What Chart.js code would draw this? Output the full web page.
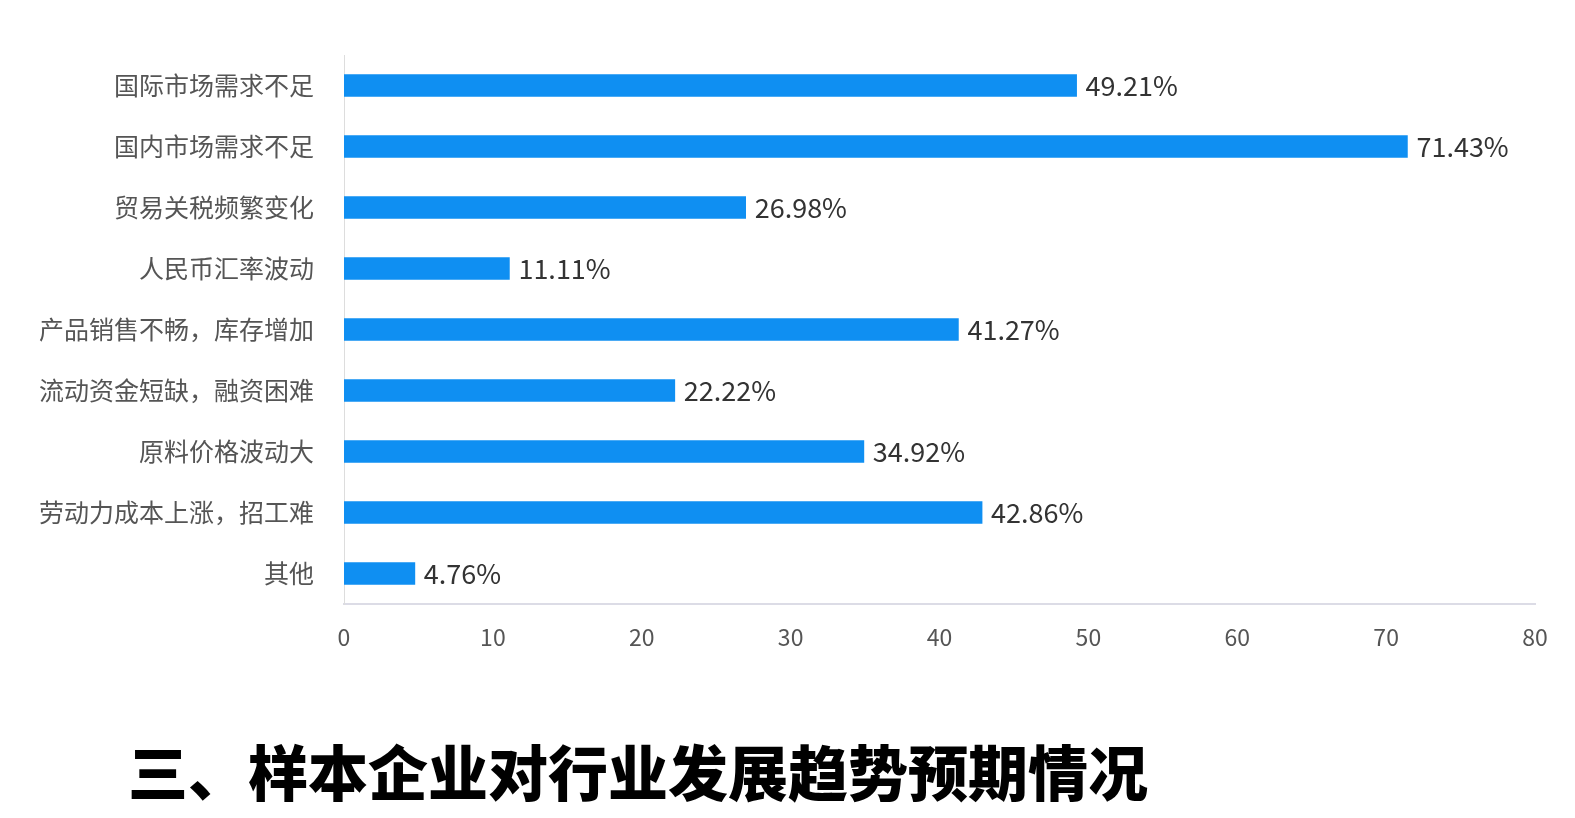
<!DOCTYPE html>
<html>
<head>
<meta charset="utf-8">
<script src="https://cdn.jsdelivr.net/npm/chart.js@4/dist/chart.umd.min.js"></script>
<style>
  html, body { margin: 0; padding: 0; background: #fff; }
  #wrap { position: relative; width: 1575px; height: 818px; }
  #box { position: absolute; left: 0; top: 0; width: 1575px; height: 700px; }
  #heading {
    position: absolute; left: 128px; top: 738px;
    font-family: "Noto Sans CJK SC", sans-serif; font-weight: 900;
    font-size: 60px; line-height: 64px; color: #000; white-space: nowrap;
  }
</style>
</head>
<body>
<div id="wrap">
  <div id="box"><canvas id="chart"></canvas></div>
  <div id="heading">三、样本企业对行业发展趋势预期情况</div>
</div>
<script>
var categories = ["国际市场需求不足", "国内市场需求不足", "贸易关税频繁变化", "人民币汇率波动",
  "产品销售不畅，库存增加", "流动资金短缺，融资困难", "原料价格波动大", "劳动力成本上涨，招工难", "其他"];
var percents = [49.21, 71.43, 26.98, 11.11, 41.27, 22.22, 34.92, 42.86, 4.76];
var xTicks = [0, 10, 20, 30, 40, 50, 60, 70, 80];

var font = "'Noto Sans CJK SC', sans-serif";

// value labels at the end of each bar
var barLabels = {
  id: "barLabels",
  afterDatasetsDraw: function (chart) {
    var ctx = chart.ctx;
    var meta = chart.getDatasetMeta(0);
    ctx.save();
    ctx.font = "27px " + font;
    ctx.fillStyle = "#333";
    ctx.textAlign = "left";
    ctx.textBaseline = "middle";
    meta.data.forEach(function (bar, i) {
      ctx.fillText(percents[i].toFixed(2) + "%", bar.x + 9, bar.y);
    });
    ctx.restore();
  },
};

var ctxB = document.getElementById("chart").getContext("2d");
var barChart = new Chart(ctxB, {
  type: "bar",
  data: {
    labels: categories,
    datasets: [
      {
        label: "",
        data: percents,
        backgroundColor: "#0f8ff2",
        barThickness: 22,
      },
    ],
  },
  options: {
    indexAxis: "y",
    responsive: true,
    maintainAspectRatio: false,
    animation: false,
    layout: { padding: { top: 55, right: 40, left: 0, bottom: 0 } },
    plugins: {
      legend: { display: false },
      tooltip: { enabled: false },
    },
    scales: {
      x: {
        min: 0,
        max: 80,
        afterBuildTicks: function (scale) {
          scale.ticks = xTicks.map(function (v) { return { value: v }; });
        },
        afterFit: function (scale) { scale.height = 96; },
        grid: { display: false, drawTicks: false },
        border: { display: true, color: "#dcdce6", width: 2 },
        ticks: { color: "#555", padding: 19, font: { family: font, size: 23 } },
      },
      y: {
        afterFit: function (scale) { scale.width = 344; },
        grid: { display: false, drawTicks: false },
        border: { display: true, color: "#dddddd", width: 1 },
        ticks: { color: "#555", padding: 30, font: { family: font, size: 25 } },
      },
    },
  },
  plugins: [barLabels],
});
</script>
</body>
</html>
